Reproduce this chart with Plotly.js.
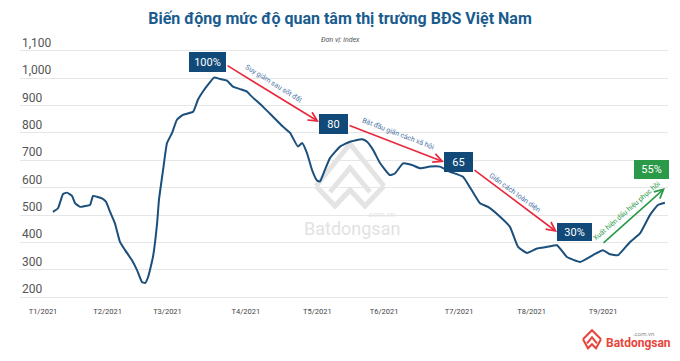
<!DOCTYPE html>
<html>
<head>
<meta charset="utf-8">
<script src="https://cdn.plot.ly/plotly-3.0.1.min.js"></script>
<style>html,body{margin:0;padding:0;background:#fff;}#chart{width:680px;height:361px;}</style>
</head>
<body>
<div id="chart"></div>
<script>
// ---- data ----
const days = [4.3,6.5,8.7,10.4,12.6,13.9,16.1,18.2,20.4,21.7,23.4,25.6,27.3,29.1,31.2,33.4,35.6,38.6,40.8,42.9,44.3,45.6,47.7,49.5,50.3,52.1,53.8,56.0,58.1,60.7,65.1,67.2,69.4,71.6,74.2,76.8,79.8,82.4,85.5,88.5,89.8,95.4,99.8,104.1,107.2,110.6,112.4,114.5,116.7,118.9,120.2,122.3,124.5,128.9,133.2,138.4,140.6,143.2,146.2,150.5,152.7,156.2,160.1,163.6,167.9,172.2,176.6,182.2,185.7,189.6,193.1,198.3,202.6,206.1,210.0,214.3,218.7,223.0,227.3,233.0,238.6,242.9,246.0,249.5,254.7,259.0,263.3,266.8,269.8];
const indexValues = [512,525,577,582,570,544,530,533,537,570,567,561,549,512,470,402,372,335,299,256,252,274,347,470,555,665,763,800,848,866,877,921,951,976,1002,997,991,969,960,951,939,896,859,823,800,750,763,727,665,626,623,665,708,750,768,777,768,738,690,646,652,689,683,671,677,677,658,640,595,543,530,494,457,384,362,378,384,390,347,329,354,372,357,354,402,433,500,537,545];
const monthTickPos = [0, 28, 54, 88, 119, 148, 180.5, 212, 243];
const monthLabels = ['T1/2021','T2/2021','T3/2021','T4/2021','T5/2021','T6/2021','T7/2021','T8/2021','T9/2021'];
const yTicks = [200,300,400,500,600,700,800,900,1000,1100];

// ---- helpers (pixel -> coordinates for decorations) ----
const PL = 20, PW = 648, PT = 48.3, PH = 251.5;
const xd = px => (px - 43) / 2.305;             // pixel -> day
const yd = py => 200 + (297 - py) / 0.27333;   // pixel -> value
const xp = px => (px - PL) / PW;               // pixel -> paper x
const yp = py => (PT + PH - py) / PH;          // pixel -> paper y
function pathPx(pts){ return pts.map((p,i)=>(i?'L':'M')+xp(p[0]).toFixed(4)+','+yp(p[1]).toFixed(4)).join(' '); }

const BLUE = '#114a78', RED = '#e8283c', GREEN = '#2a9a48', LBL = '#4a74a4';

const trace = {
  x: days, y: indexValues, type: 'scatter', mode: 'lines',
  line: {color: '#1b4f7c', width: 2, shape: 'spline', smoothing: 0.4},
  hoverinfo: 'skip'
};

function box(text, cx, cy, w, h, color){
  return {x: xd(cx), y: yd(cy), xref:'x', yref:'y', text: text, showarrow:false,
    bgcolor: color, width: w, height: h, borderpad: 0, borderwidth: 0,
    font:{family:'Roboto', size:11, color:'#fff'}, xanchor:'center', yanchor:'middle', valign:'middle'};
}
function arrow(x0,y0,x1,y1,color){
  return {x: xd(x1), y: yd(y1), ax: xd(x0), ay: yd(y0), xref:'x', yref:'y', axref:'x', ayref:'y',
    text:'', showarrow:true, arrowhead:5, arrowsize:1.1, arrowwidth:1.6, arrowcolor: color, standoff:0, startstandoff:0};
}
function label(text, cx, cy, ang, color){
  return {x: xd(cx), y: yd(cy), xref:'x', yref:'y', text:text, showarrow:false, textangle: ang,
    font:{family:'Roboto', size:7, color: color}, xanchor:'center', yanchor:'middle'};
}

const yLabelAnns = yTicks.map(v => ({xref:'paper', yref:'y', x: 0, y: v, yshift: 8, text: v.toLocaleString('en-US'),
  showarrow:false, xanchor:'left', yanchor:'middle', font:{family:'Roboto', size:12, color:'#555'}}));

const annotations = yLabelAnns.concat([
  arrow(226,65,319,122,RED),
  arrow(348,125,444,162,RED),
  arrow(473,169,557,232,RED),
  arrow(602,244,665,188,GREEN),
  box('100%', 207.5, 62, 37, 20, BLUE),
  box('80', 333, 124, 29, 20, BLUE),
  box('65', 458, 162, 29, 20, BLUE),
  box('30%', 574.5, 232, 35, 18, BLUE),
  box('55%', 651, 170, 35, 19, GREEN),
  label('Suy giảm sau sốt đất', 274, 84, 32, LBL),
  label('Bắt đầu giãn cách xã hội', 398, 134, 21, LBL),
  label('Giãn cách toàn diện', 515, 193, 36, LBL),
  label('Xuất hiện dấu hiệu phục hồi', 627, 211, -41, GREEN),
  {xref:'paper', yref:'paper', x: xp(340), y: yp(40), text:'<i>Đơn vị: index</i>', showarrow:false,
    font:{family:'Roboto', size:7, color:'#555'}, xanchor:'center', yanchor:'middle'},
  // watermark text
  {xref:'paper', yref:'paper', x: xp(352), y: yp(228), text:'Batdongsan', showarrow:false,
    font:{family:'Roboto', size:18, color:'#e2e2e2'}, xanchor:'center', yanchor:'middle'},
  {xref:'paper', yref:'paper', x: xp(397), y: yp(214), text:'.com.vn', showarrow:false,
    font:{family:'Roboto', size:8, color:'#e2e2e2'}, xanchor:'right', yanchor:'middle'},
  // bottom-right logo text
  {xref:'paper', yref:'paper', x: xp(604), y: yp(343), text:'<b>Batdongsan</b>', showarrow:false,
    font:{family:'Roboto', size:12, color:'#e8443a'}, xanchor:'left', yanchor:'middle'},
  {xref:'paper', yref:'paper', x: xp(656), y: yp(333), text:'.com.vn', showarrow:false,
    font:{family:'Roboto', size:6, color:'#888'}, xanchor:'right', yanchor:'middle'}
]);

const shapes = [
  {type:'path', xref:'paper', yref:'paper', layer:'below', path: pathPx([[316,186],[350,144],[384,186]]), line:{color:'#e4e4e4', width:5}},
  {type:'path', xref:'paper', yref:'paper', layer:'below', path: pathPx([[330,192],[350,168],[370,192]]), line:{color:'#e4e4e4', width:5}},
  {type:'path', xref:'paper', yref:'paper', layer:'below', path: pathPx([[316,186],[335,206],[350,190],[365,206],[384,186]]), line:{color:'#e4e4e4', width:5}},
  {type:'path', xref:'paper', yref:'paper', path: pathPx([[583,339],[592,330],[601,339]]), line:{color:'#e8443a', width:2}},
  {type:'path', xref:'paper', yref:'paper', path: pathPx([[587,343],[592,337],[597,343]]), line:{color:'#e8443a', width:2}},
  {type:'path', xref:'paper', yref:'paper', path: pathPx([[583,339],[588,348],[592,344],[596,348],[601,339]]), line:{color:'#e8443a', width:2}}
];

const layout = {
  width: 680, height: 361,
  margin: {l: PL, r: 680 - PL - PW, t: PT, b: 361 - PT - PH},
  paper_bgcolor: '#fff', plot_bgcolor: '#fff',
  showlegend: false,
  title: {text: '<b>Biến động mức độ quan tâm thị trường BĐS Việt Nam</b>', x: 0.5, xanchor: 'center',
    y: 1 - 18/361, yref: 'container', yanchor: 'middle',
    font: {family: 'Roboto', size: 16, color: '#1a5c8e'}},
  xaxis: {type: 'linear', range: [xd(PL), xd(PL + PW)], tickmode: 'array', tickvals: monthTickPos, ticktext: monthLabels,
    showgrid: false, zeroline: false, showline: false, ticks: '', ticklabelstandoff: 5,
    tickfont: {family: 'Roboto', size: 7.5, color: '#444'}, fixedrange: true},
  yaxis: {range: [190, 1110], tickmode: 'array', tickvals: yTicks, showticklabels: false, showgrid: true,
    gridcolor: '#e6e6e6', gridwidth: 1, zeroline: false, showline: false, ticks: '', fixedrange: true},
  annotations: annotations,
  shapes: shapes
};

Plotly.newPlot('chart', [trace], layout, {displayModeBar: false, staticPlot: true});
</script>
</body>
</html>
